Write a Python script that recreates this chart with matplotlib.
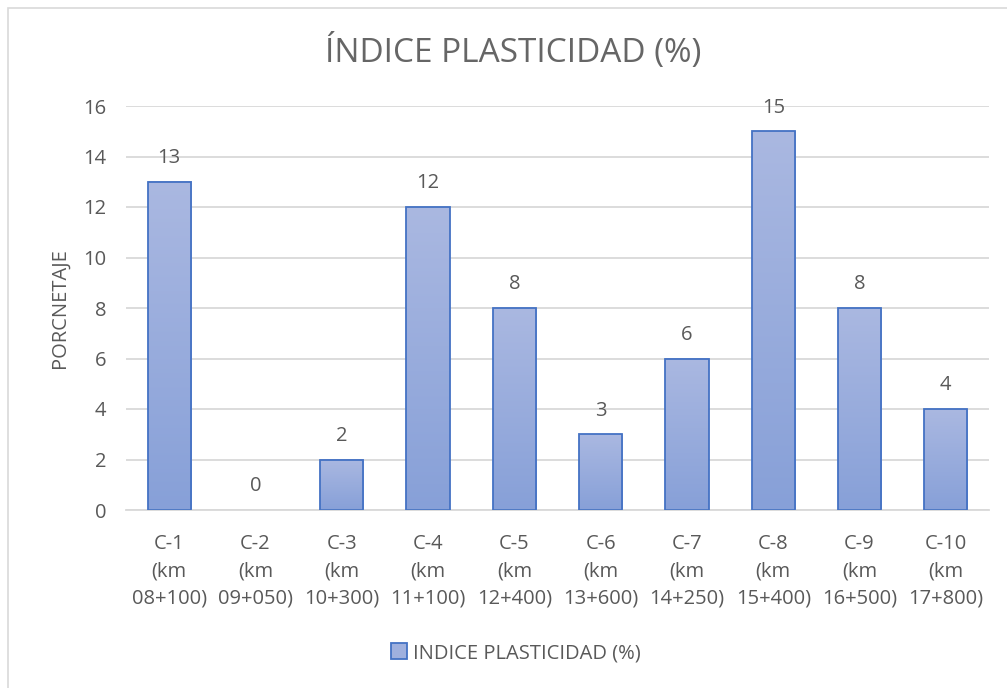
import matplotlib
matplotlib.use("Agg")
import matplotlib.pyplot as plt
import numpy as np
from matplotlib.patches import Rectangle
from matplotlib.colors import LinearSegmentedColormap

plt.rcParams['font.family'] = ['Open Sans', 'DejaVu Sans']

# Data
categories = ["C-1\n(km\n08+100)", "C-2\n(km\n09+050)", "C-3\n(km\n10+300)",
              "C-4\n(km\n11+100)", "C-5\n(km\n12+400)", "C-6\n(km\n13+600)",
              "C-7\n(km\n14+250)", "C-8\n(km\n15+400)", "C-9\n(km\n16+500)",
              "C-10\n(km\n17+800)"]
values = [13, 0, 2, 12, 8, 3, 6, 15, 8, 4]
yticks = [0, 2, 4, 6, 8, 10, 12, 14, 16]

title = "ÍNDICE PLASTICIDAD (%)"
series_name = "INDICE PLASTICIDAD (%)"
ylabel = "PORCNETAJE"

TEXT = "#595959"
EDGE = "#4472C4"
TOP_C = "#aab8e1"
BOT_C = "#87a0d8"
GRID = "#d9d9d9"
FS = 14.5

W, H = 1007, 688
fig = plt.figure(figsize=(W / 100, H / 100), dpi=100)
fig.patch.set_facecolor("white")

# chart-area outline
fig.add_artist(Rectangle((8 / W, -0.01), 1.02, 1 - 8 / H + 0.01, transform=fig.transFigure,
                         fill=False, edgecolor=GRID, linewidth=1.2))

ax = fig.add_axes([126 / W, 1 - 510 / H, (989 - 126) / W, (510 - 106) / H])
x = np.arange(len(values))
bars = ax.bar(x, values, width=0.5, color="none", edgecolor=EDGE, linewidth=1.3, zorder=3)

# vertical gradient inside each bar
cmap = LinearSegmentedColormap.from_list("barfill", [BOT_C, TOP_C])
grad = np.linspace(0, 1, 256).reshape(-1, 1)
for b in bars:
    h = b.get_height()
    if h <= 0:
        b.set_linewidth(0)
        continue
    x0 = b.get_x()
    ax.imshow(grad, cmap=cmap, origin="lower", aspect="auto",
              extent=(x0, x0 + b.get_width(), 0, h), zorder=2)

for xi, v in zip(x, values):
    ax.annotate(str(v), (xi, v), xytext=(0, 17), textcoords="offset points",
                ha="center", va="center", fontsize=FS, color=TEXT)

ax.set_xlim(-0.5, len(values) - 0.5)
ax.set_ylim(0, 16)
ax.set_yticks(yticks)
ax.set_xticks(x)
ax.set_xticklabels(categories, fontsize=FS, color=TEXT, linespacing=1.5)
ax.tick_params(axis="y", labelsize=FS, labelcolor=TEXT, length=0, pad=14)
ax.tick_params(axis="x", length=0, pad=17)
ax.yaxis.grid(True, color=GRID, linewidth=1.3, zorder=0)
ax.set_axisbelow(True)
for s in ["top", "right", "left"]:
    ax.spines[s].set_visible(False)
ax.spines["bottom"].set_color(GRID)
ax.spines["bottom"].set_linewidth(1.3)

ax.set_ylabel(ylabel, fontsize=FS, color=TEXT, labelpad=10)
fig.text(513 / W, 1 - 52 / H, title, ha="center", va="center", fontsize=24, color="#666666")

# legend
handle = Rectangle((0, 0), 1, 1, facecolor="#9fb0de", edgecolor=EDGE, linewidth=1.3)
fig.legend([handle], [series_name], loc="center", bbox_to_anchor=(516 / W, 1 - 653 / H),
           frameon=False, fontsize=FS, labelcolor=TEXT, handlelength=0.8, handleheight=0.8,
           handletextpad=0.3)

fig.savefig("out.png", dpi=100, facecolor="white")
